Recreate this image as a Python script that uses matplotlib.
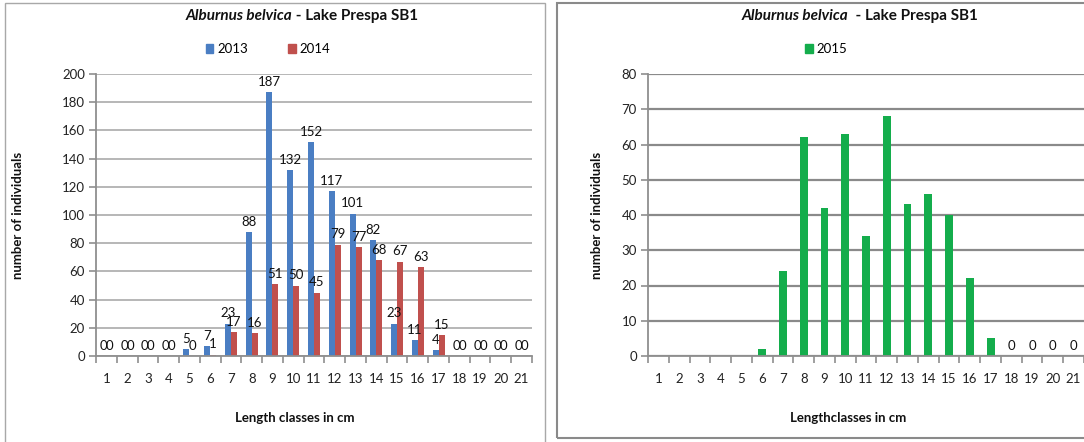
import numpy as np
import matplotlib
matplotlib.use("Agg")
import matplotlib.pyplot as plt
from matplotlib.patches import Rectangle, Patch

plt.rcParams['font.family'] = ['Lato', 'DejaVu Sans']

# Length classes (cm) and counts per year
classes = list(range(1, 22))
tick_labels = [str(c) for c in classes]
y2013 = [0, 0, 0, 0, 5, 7, 23, 88, 187, 132, 152, 117, 101, 82, 23, 11, 4, 0, 0, 0, 0]
y2014 = [0, 0, 0, 0, 0, 1, 17, 16, 51, 50, 45, 79, 77, 68, 67, 63, 15, 0, 0, 0, 0]
y2015 = [np.nan, np.nan, np.nan, np.nan, np.nan, 2, 24, 62, 42, 63, 34, 68, 43, 46, 40, 22, 5, 0, 0, 0, 0]

BLUE = '#4A7EC3'
RED = '#C0504D'
GREEN = '#14AD4C'
GRID = '#8F8F8F'
TXT = '#111111'
FS = 9.5
W, H = 1084, 442

fig = plt.figure(figsize=(W / 100, H / 100), dpi=100)


def px_box(x0, y0, x1, y1):
    return [x0 / W, 1 - y1 / H, (x1 - x0) / W, (y1 - y0) / H]


def style_axes(ax, ymax, ystep, grid_lw, grid_color):
    ax.set_xlim(0.5, 21.5)
    ax.set_ylim(0, ymax)
    ax.set_yticks(np.arange(0, ymax + 1, ystep))
    ax.set_xticks(classes)
    ax.set_xticklabels(tick_labels)
    ax.set_xticks(np.arange(0.5, 22, 1), minor=True)
    ax.tick_params(axis='x', which='major', length=0, pad=12, labelsize=FS, colors='#222222')
    ax.tick_params(axis='x', which='minor', length=5, width=1.2, color=GRID)
    ax.tick_params(axis='y', length=5, width=1.2, color=GRID, labelsize=FS, labelcolor='#222222', pad=3)
    for s in ('top', 'right'):
        ax.spines[s].set_visible(False)
    for s in ('left', 'bottom'):
        ax.spines[s].set_color(GRID)
        ax.spines[s].set_linewidth(1.3)
    ax.yaxis.grid(True, color=grid_color, linewidth=grid_lw)
    ax.set_axisbelow(True)


def title(cx, y, italic, rest):
    t1 = fig.text(0, y, italic, fontsize=11, fontweight='bold', style='italic',
                  ha='left', va='center', color=TXT)
    t2 = fig.text(0, y, rest, fontsize=11, fontweight='bold', ha='left', va='center',
                  color=TXT)
    fig.canvas.draw()
    r = fig.canvas.get_renderer()
    w1 = t1.get_window_extent(r).width
    w2 = t2.get_window_extent(r).width
    x0 = cx - (w1 + w2) / 2
    t1.set_x(x0 / W)
    t2.set_x((x0 + w1) / W)


# ---- left chart: 2013 and 2014 ----
ax1 = fig.add_axes(px_box(96, 74, 532, 356))
x = np.array(classes, dtype=float)
bw = 0.29
ax1.bar(x - bw / 2, y2013, width=bw, color=BLUE)
ax1.bar(x + bw / 2, y2014, width=bw, color=RED)
style_axes(ax1, 200, 20, 1.1, '#A3A3A3')
for xi, v in zip(x - bw / 2, y2013):
    ax1.annotate(str(v), (xi, v), xytext=(0, 3), textcoords='offset points',
                 ha='center', va='bottom', fontsize=FS, color=TXT)
for xi, v in zip(x + bw / 2, y2014):
    ax1.annotate(str(v), (xi, v), xytext=(0, 3), textcoords='offset points',
                 ha='center', va='bottom', fontsize=FS, color=TXT)

fig.text(18 / W, 1 - 215 / H, 'number of individuals', rotation=90, ha='center', va='center',
         fontsize=FS, fontweight='bold', color=TXT)
fig.text(295 / W, 1 - 418 / H, 'Length classes in cm', ha='center', va='center',
         fontsize=FS, fontweight='bold', color=TXT)
fig.legend(handles=[Patch(color=BLUE, label='2013'), Patch(color=RED, label='2014')],
           loc='center', bbox_to_anchor=(268 / W, 1 - 49 / H), ncol=2, frameon=False,
           fontsize=FS, handlelength=0.6, handleheight=0.6, handletextpad=0.3,
           columnspacing=3.0)

# ---- right chart: 2015 ----
ax2 = fig.add_axes(px_box(648, 74, 1084, 356))
bw2 = 0.38
ax2.bar(x, y2015, width=bw2, color=GREEN)
style_axes(ax2, 80, 10, 1.6, '#8A8A8A')
for xi, v in zip(x, y2015):
    if v == 0:
        ax2.annotate('0', (xi, v), xytext=(0, 3), textcoords='offset points',
                     ha='center', va='bottom', fontsize=FS, color=TXT)

fig.text(597 / W, 1 - 215 / H, 'number of individuals', rotation=90, ha='center', va='center',
         fontsize=FS, fontweight='bold', color=TXT)
fig.text(848 / W, 1 - 418 / H, 'Lengthclasses in cm', ha='center', va='center',
         fontsize=FS, fontweight='bold', color=TXT)
fig.legend(handles=[Patch(color=GREEN, label='2015')],
           loc='center', bbox_to_anchor=(826 / W, 1 - 49 / H), ncol=1, frameon=False,
           fontsize=FS, handlelength=0.6, handleheight=0.6, handletextpad=0.3)

# chart frames
fig.patches.append(Rectangle((5 / W, -0.01), 540 / W, 1 - 3 / H + 0.01, transform=fig.transFigure,
                             fill=False, edgecolor='#A8A8A8', linewidth=1.0))
fig.patches.append(Rectangle((557 / W, 1 - 438 / H), 0.6, (438 - 3) / H, transform=fig.transFigure,
                             fill=False, edgecolor='#8A8A8A', linewidth=1.5))

title(302, 1 - 16 / H, 'Alburnus belvica', ' - Lake Prespa SB1')
title(860, 1 - 16 / H, 'Alburnus belvica', '  - Lake Prespa SB1')

fig.savefig('out.png', dpi=100)
